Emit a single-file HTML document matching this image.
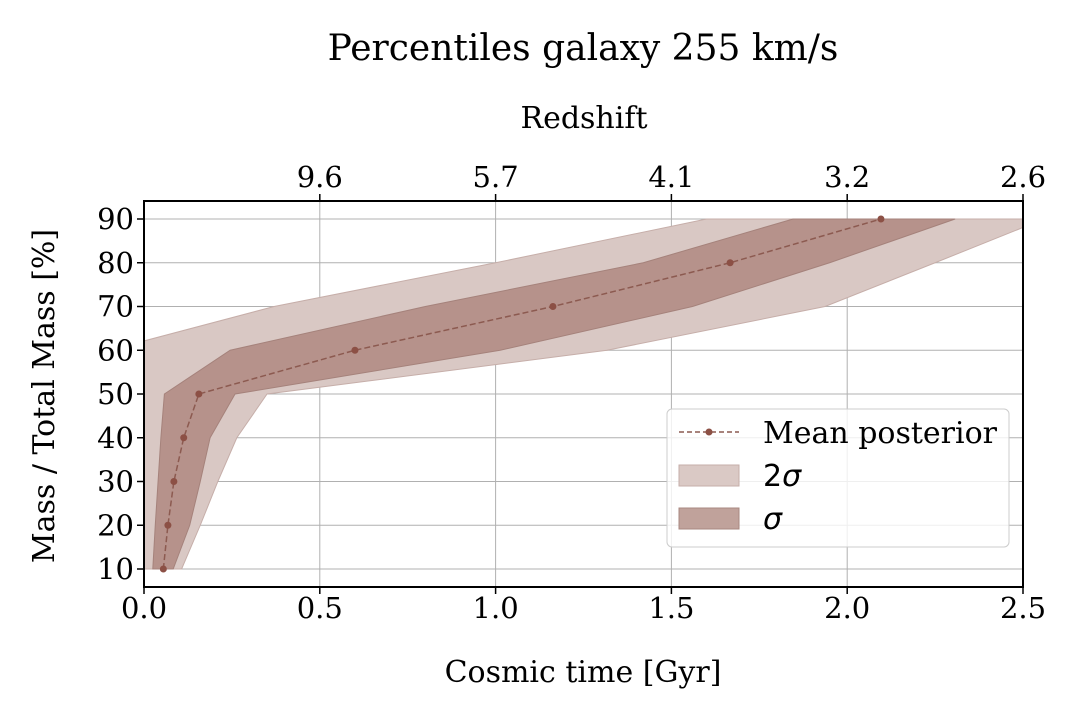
<!DOCTYPE html>
<html><head><meta charset="utf-8"><style>
body{margin:0;background:#fff}
svg{display:block;font-family:"DejaVu Serif","Liberation Serif",serif}
</style></head><body>
<svg id="chart" width="1080" height="720" viewBox="0 0 1080 720">
<defs><clipPath id="clip"><rect x="144" y="201" width="879" height="386"/></clipPath></defs>
<text x="583" y="60" font-size="36" text-anchor="middle">Percentiles galaxy 255 km/s</text>
<text x="584" y="128" font-size="30" text-anchor="middle">Redshift</text>
<text x="583" y="682" font-size="30" text-anchor="middle">Cosmic time [Gyr]</text>
<text transform="translate(54,396) rotate(-90)" font-size="30" text-anchor="middle">Mass / Total Mass [%]</text>
<g id="grid"></g>
<g id="bands" clip-path="url(#clip)"></g>
<g id="mean" clip-path="url(#clip)"></g>
<rect x="144" y="201" width="879" height="386" fill="none" stroke="#000" stroke-width="2"/>
<g id="ticks"></g>
<g>
<rect x="667" y="409" width="342" height="138" rx="5" fill="#fff" fill-opacity="0.8" stroke="#ccc"/>
<g>
<line x1="679" y1="432" x2="739" y2="432" stroke="#8c5a50" stroke-width="1.5" stroke-dasharray="5,3"/>
<circle cx="709" cy="432" r="3.5" fill="#8c5045"/>
<text x="763" y="443" font-size="30">Mean posterior</text></g>
<g>
<rect x="679" y="465" width="60" height="21" fill="#dac9c5" stroke="#c6aea9"/>
<text x="763" y="486" font-size="30" font-family="DejaVu Sans, sans-serif">2<tspan font-style="italic">σ</tspan></text></g>
<g>
<rect x="679" y="508" width="60" height="21" fill="#c0a29b" stroke="#a98880"/>
<text x="763" y="529" font-size="30" font-style="italic" font-family="DejaVu Sans, sans-serif">σ</text></g>
</g>
</svg>
<script>
const levels=[10,20,30,40,50,60,70,80,90];
const meanTime=[0.055,0.068,0.085,0.113,0.156,0.6,1.163,1.667,2.096];
const twoSigLow=[0,0,0,0,0,-0.1,0.37,1.0,1.6];
const twoSigHigh=[0.107,0.16,0.21,0.264,0.35,1.317,1.937,2.25,2.56];
const sigLow=[0.025,0.032,0.04,0.048,0.058,0.245,0.8,1.42,1.846];
const sigHigh=[0.083,0.13,0.16,0.188,0.259,1.013,1.56,1.95,2.307];
const xTicks=[0,0.5,1.0,1.5,2.0,2.5];
const yTicks=[10,20,30,40,50,60,70,80,90];
const zTicks=[0.5,1.0,1.5,2.0,2.5];
const zLabels=["9.6","5.7","4.1","3.2","2.6"];
const NS="http://www.w3.org/2000/svg";
const X=t=>144+t*(879/2.5);
const Y=v=>569-(v-10)*4.375;
function mk(tag,attrs,parent,txt){const e=document.createElementNS(NS,tag);for(const k in attrs)e.setAttribute(k,attrs[k]);if(txt!==undefined)e.textContent=txt;parent.appendChild(e);return e;}
const grid=document.getElementById('grid'),ticks=document.getElementById('ticks');
xTicks.forEach(t=>{
 const g=mk('line',{x1:X(t),x2:X(t),y1:201,y2:587,stroke:'#b0b0b0','stroke-width':1},grid);
 
 
 mk('line',{x1:X(t),x2:X(t),y1:587,y2:594,stroke:'#000','stroke-width':1.5},ticks);
 const l=mk('text',{x:X(t),y:618,'font-size':29,'text-anchor':'middle'},ticks,t.toFixed(1));
 
 
});
yTicks.forEach(v=>{
 const g=mk('line',{x1:144,x2:1023,y1:Y(v),y2:Y(v),stroke:'#b0b0b0','stroke-width':1},grid);
 
 
 mk('line',{x1:137,x2:144,y1:Y(v),y2:Y(v),stroke:'#000','stroke-width':1.5},ticks);
 const l=mk('text',{x:134,y:Y(v)+10,'font-size':29,'text-anchor':'end'},ticks,String(v));
 
 
});
zTicks.forEach((t,i)=>{
 mk('line',{x1:X(t),x2:X(t),y1:194,y2:201,stroke:'#000','stroke-width':1.5},ticks);
 const l=mk('text',{x:X(t),y:187,'font-size':29,'text-anchor':'middle'},ticks,zLabels[i]);
 
 
});
function band(lo,hi,fill,stroke,name){
 let pts=levels.map((v,i)=>X(lo[i])+','+Y(v));
 pts=pts.concat(levels.map((v,i)=>X(hi[i])+','+Y(v)).reverse());
 const p=mk('polygon',{points:pts.join(' '),fill:fill,stroke:stroke,'stroke-width':1},document.getElementById('bands'));
 
 
}
band(twoSigLow,twoSigHigh,'#d9c8c4','#c6aea9','band-2sigma');
band(sigLow,sigHigh,'#b6928b','#a5827b','band-sigma');
const mg=document.getElementById('mean');
const ml=mk('polyline',{points:levels.map((v,i)=>X(meanTime[i])+','+Y(v)).join(' '),fill:'none',stroke:'#8c5a50','stroke-width':1.5,'stroke-dasharray':'6,3'},mg);


levels.forEach((v,i)=>{
 const c=mk('circle',{cx:X(meanTime[i]),cy:Y(v),r:3.5,fill:'#8c5045'},mg);
 
 
});
</script>
</body></html>
